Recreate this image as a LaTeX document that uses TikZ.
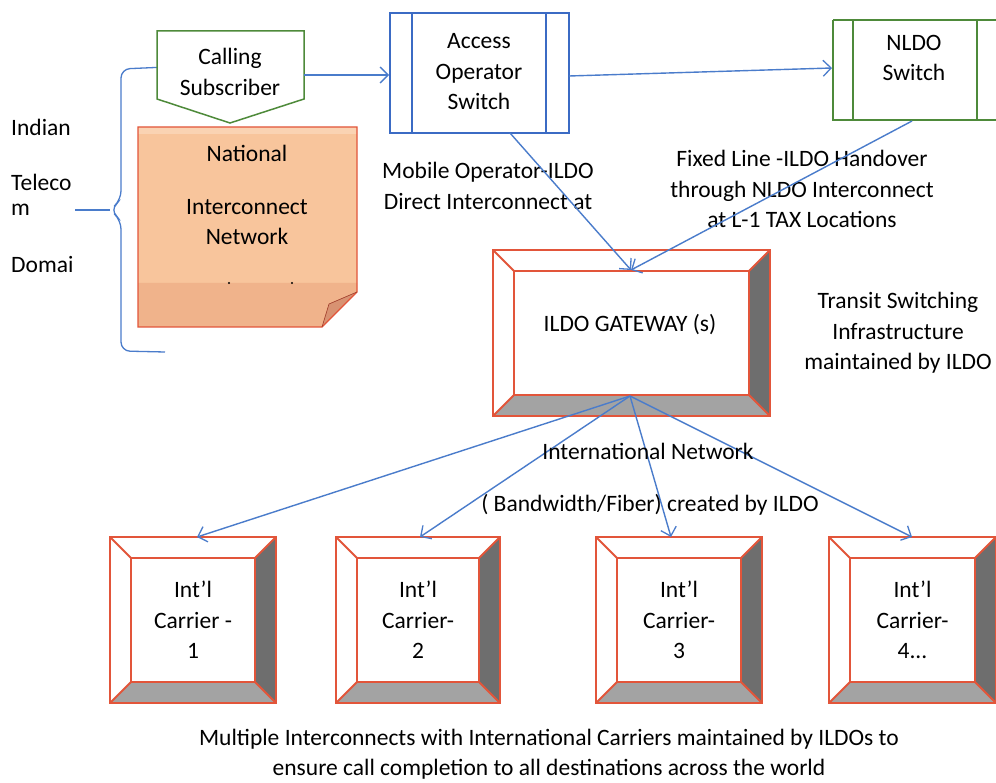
\documentclass[tikz,border=0pt]{standalone}
\usepackage{fontspec}
\setmainfont{Carlito}
\usetikzlibrary{arrows.meta}
\definecolor{lblue}{HTML}{4A7CCB}
\definecolor{sbblue}{HTML}{3B6BC4}
\definecolor{sgreen}{HTML}{4E8A3A}
\definecolor{bord}{HTML}{E2553A}
\definecolor{notefill}{HTML}{F8C59C}
\definecolor{notetop}{HTML}{FAD3B3}
\definecolor{notebot}{HTML}{F0B38B}
\definecolor{noteflap}{HTML}{D89272}
\definecolor{bevR}{HTML}{6E6E6E}
\definecolor{bevB}{HTML}{A3A3A3}
\tikzset{
  txt/.style={align=center, inner sep=0pt, font=\fontsize{23.5}{30.5}\selectfont},
  conn/.style={lblue, line width=1.4pt, -{Straight Barb[length=8pt,width=16pt,line width=1.3pt]}},
  bordline/.style={bord, line width=1.8pt},
}
\newcommand{\bevelbox}[7]{%
  \fill[white] (#2,#3) rectangle (#4,#5);
  \fill[bevR] (#4,#3) -- (#4,#5) -- ({#4-#6},{#5-#6}) -- ({#4-#6},{#3+#6}) -- cycle;
  \fill[bevB] (#2,#5) -- (#4,#5) -- ({#4-#6},{#5-#6}) -- ({#2+#6},{#5-#6}) -- cycle;
  \draw[bordline] (#2,#3) rectangle (#4,#5);
  \draw[bordline] ({#2+#6},{#3+#6}) rectangle ({#4-#6},{#5-#6});
  \draw[bordline] (#2,#3) -- ({#2+#6},{#3+#6});
  \draw[bordline] (#4,#3) -- ({#4-#6},{#3+#6});
  \draw[bordline] (#2,#5) -- ({#2+#6},{#5-#6});
  \draw[bordline] (#4,#5) -- ({#4-#6},{#5-#6});
  \node[txt] (#1) at ({(#2+#4)/2},{(#3+#5)/2}) {#7};
}
\begin{document}
\begin{tikzpicture}[x=1pt,y=-1pt]
\useasboundingbox[fill=white] (0,0) rectangle (996,783);

% left labels
\node[txt, anchor=west] (l1) at (11,127) {Indian};
\node[txt, anchor=west] (l2) at (11,182) {Teleco};
\node[txt, anchor=west] (l3) at (11,210) {m};
\node[txt, anchor=west] (l4) at (11,265) {Domai};

% brace
\draw[lblue, line width=1.3pt, rounded corners=9pt] (167,67) -- (121,69) -- (121,200) -- (110,210) -- (121,220) -- (121,351) -- (165,352);
\coordinate (bracetip) at (110,210);
\coordinate (bracefree) at (75,210);
\draw[lblue, line width=1.3pt] (bracefree) -- (bracetip);

% national interconnect note
\fill[notefill] (138,127) -- (357,127) -- (357,292) -- (322,327) -- (138,327) -- cycle;
\fill[notetop] (138,127) rectangle (357,134);
\fill[notebot] (138,283) -- (357,283) -- (357,292) -- (322,327) -- (138,327) -- cycle;
\fill[noteflap] (357,292) -- (322,327) -- (329,304) -- cycle;
\draw[bord, line width=1.2pt] (138,127) -- (357,127) -- (357,292) -- (322,327) -- (138,327) -- cycle;
\draw[bord!70!black, line width=0.6pt] (357,292) -- (329,304) -- (322,327);
\node[txt] (nat) at (247,153) {National};
\node[txt] (inet) at (247,222) {Interconnect\\Network};
\fill (229,283) circle (1.2pt);
\fill (292,283) circle (1.2pt);

% calling subscriber
\draw[sgreen, line width=1.5pt, fill=white] (157,31) -- (304,31) -- (304,99) -- (230,123) -- (157,99) -- cycle;
\begin{scope}
\clip (157,31) rectangle (304,97);
\node[txt] (calling) at (230,72) {Calling\\Subscriber};
\end{scope}
\coordinate (callR) at (304,75);

% access operator switch
\draw[sbblue, line width=1.8pt] (390,13) rectangle (569,133);
\draw[sbblue, line width=1.8pt] (412,13) -- (412,133);
\draw[sbblue, line width=1.8pt] (546,13) -- (546,133);
\node[txt] (access) at (479,72) {Access\\Operator\\Switch};
\coordinate (accL) at (389,75);
\coordinate (accR) at (569,76);
\coordinate (accB) at (510,133);

% NLDO switch
\draw[sgreen, line width=1.7pt] (833,20) -- (833,120) -- (997,120);
\draw[sgreen, line width=1.7pt] (833,20) -- (997,20);
\draw[sgreen, line width=1.7pt] (853,20) -- (853,120);
\draw[sgreen, line width=1.7pt] (977,20) -- (977,120);
\node[txt] (nldo) at (914,58) {NLDO\\Switch};
\coordinate (nldoL) at (832,68);
\coordinate (nldoB) at (912,121);

% top arrows
\draw[conn] (callR) -- (accL);
\draw[conn] (accR) -- (nldoL);

% captions
\node[txt] (mob) at (488,186) {Mobile Operator-ILDO\\Direct Interconnect at};
\node[txt] (fixed) at (802,189) {Fixed Line -ILDO Handover\\through NLDO Interconnect\\at L-1 TAX Locations};
\node[txt] (transit) at (898,333) {Transit Switching\\Infrastructure\\maintained by ILDO};

% gateway
\bevelbox{gwbox}{493}{250}{770}{416}{21}{}
\node[txt] (gw) at (630,325) {ILDO GATEWAY (s)};
\coordinate (gwtop) at (631,270);
\coordinate (gwbot) at (630,396);
\draw[conn] (accB) -- (gwtop);
\draw[conn] (nldoB) -- (gwtop);

% carriers
\bevelbox{c1}{110}{537}{276}{703}{21}{Int’l\\Carrier -\\1}
\bevelbox{c2}{336}{537}{500}{703}{21}{Int’l\\Carrier-\\2}
\bevelbox{c3}{596}{537}{762}{703}{21}{Int’l\\Carrier-\\3}
\bevelbox{c4}{829}{537}{996}{703}{21}{Int’l\\Carrier-\\4...}
\coordinate (c1top) at (197,537);
\coordinate (c2top) at (420,537);
\coordinate (c3top) at (671,537);
\coordinate (c4top) at (912,537);
\draw[conn] (gwbot) -- (c1top);
\draw[conn] (gwbot) -- (c2top);
\draw[conn] (gwbot) -- (c3top);
\draw[conn] (gwbot) -- (c4top);

\node[txt] (intnet) at (648,451) {International Network};
\node[txt] (bw) at (650,505) {( Bandwidth/Fiber) created by ILDO};

\node[txt] (bottom) at (549,754) {Multiple Interconnects with International Carriers maintained by ILDOs to\\ensure call completion to all destinations across the world};
\end{tikzpicture}
\end{document}
